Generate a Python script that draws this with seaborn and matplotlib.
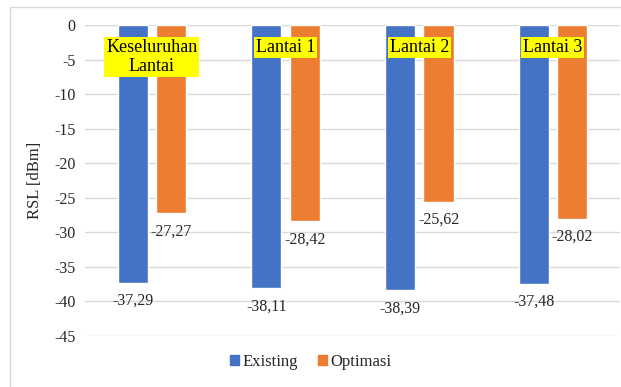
import matplotlib
matplotlib.use("Agg")
import matplotlib.pyplot as plt
import seaborn as sns
import pandas as pd
from matplotlib.patches import Rectangle

categories = ["Keseluruhan\nLantai", "Lantai 1", "Lantai 2", "Lantai 3"]
existing = [-37.29, -38.11, -38.39, -37.48]
optimasi = [-27.27, -28.42, -25.62, -28.02]
series = ["Existing", "Optimasi"]
colors = ["#4472C4", "#ED7D31"]

df = pd.DataFrame({
    "Lantai": categories * 2,
    "RSL": existing + optimasi,
    "Seri": [series[0]] * 4 + [series[1]] * 4,
})

sns.set_style("white")
plt.rcParams["font.family"] = ["Liberation Serif", "DejaVu Serif"]
plt.rcParams["axes.unicode_minus"] = False

txt = "#262626"

fig = plt.figure(figsize=(6.21, 3.87), dpi=100)
ax = fig.add_axes([0.137, 0.132, 0.861, 0.803])

sns.barplot(data=df, x="Lantai", y="RSL", hue="Seri", palette=colors,
            saturation=1, width=0.576, gap=0.22, ax=ax, legend=True)

ax.set_ylim(-45, 0)
ax.set_yticks(range(-45, 1, 5))
ax.yaxis.grid(True, color="#d9d9d9", linewidth=1)
ax.set_axisbelow(True)
for s in ax.spines.values():
    s.set_visible(False)
ax.tick_params(axis="y", length=0, labelsize=11.5, colors=txt, pad=7)
ax.set_xticks([])
ax.set_xlabel("")
ax.set_ylabel("RSL [dBm]", fontsize=12, color=txt, labelpad=8)
ax.set_xlim(-0.5, 3.5)

# value labels below the end of each bar
for cont in ax.containers:
    for bar in cont:
        v = bar.get_height()
        ax.annotate(f"{v:.2f}".replace(".", ","),
                    (bar.get_x() + bar.get_width() / 2, v),
                    xytext=(0, -18), textcoords="offset pixels",
                    ha="center", va="center", fontsize=11.5, color=txt)

# category names in yellow boxes near the top
for i, c in enumerate(categories):
    ax.text(i, -2.0, c, ha="center", va="top", fontsize=13, color="black",
            linespacing=1.15,
            bbox=dict(boxstyle="square,pad=0.1", facecolor="#FFFF00", edgecolor="none"))

ax.get_legend().remove()
handles = [Rectangle((0, 0), 1, 1, color=col) for col in colors]
fig.legend(handles, series, loc="center", bbox_to_anchor=(0.5, 0.065), ncol=2,
           frameon=False, fontsize=12, handlelength=0.55, handleheight=0.55,
           handletextpad=0.2, columnspacing=1.2, labelcolor=txt)

fig.patches.append(Rectangle((10 / 621, -0.01), 1.0, 1 - 7 / 387 + 0.01,
                             transform=fig.transFigure, fill=False,
                             edgecolor="#d9d9d9", linewidth=1))

fig.savefig("out.png", dpi=100)
